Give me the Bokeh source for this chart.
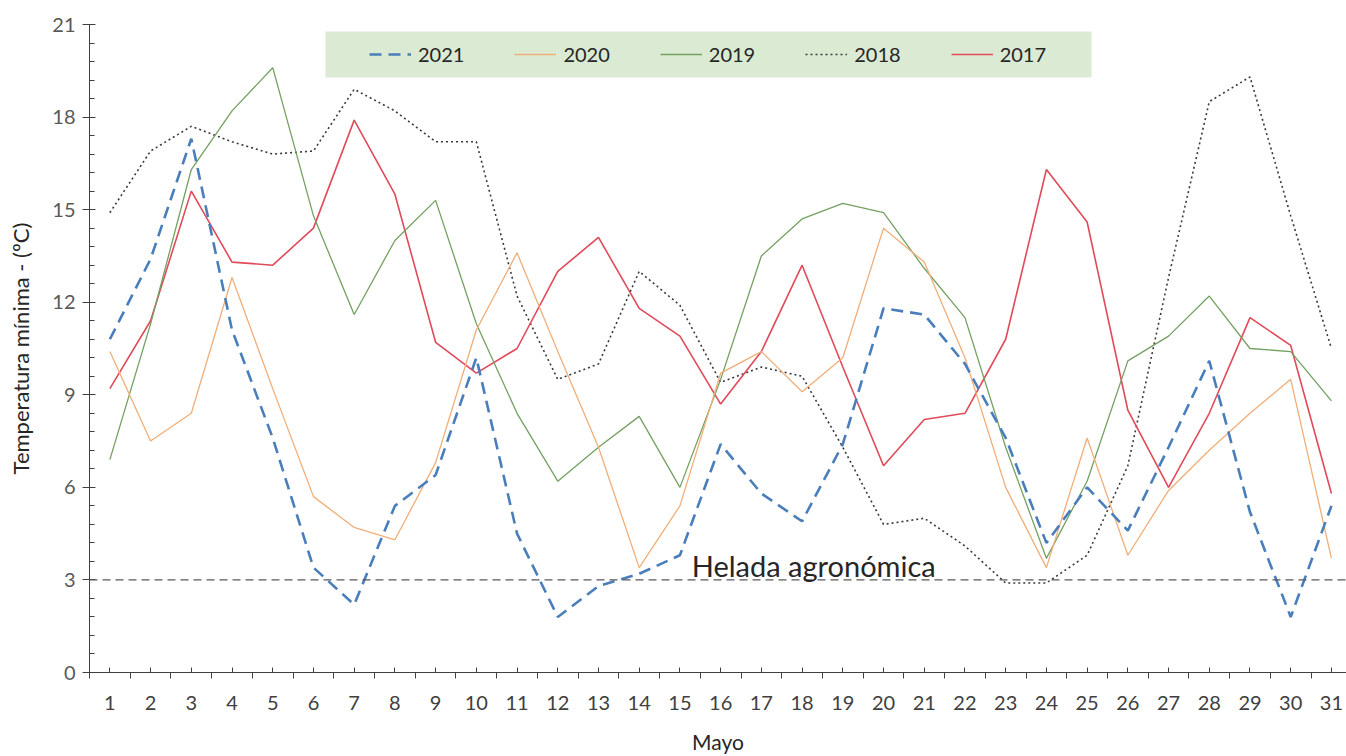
from bokeh.plotting import figure
from bokeh.models import (Legend, LegendItem, Span, Label, FixedTicker,
                          SingleIntervalTicker, Range1d, BoxAnnotation)
from bokeh.embed import file_html
from bokeh.resources import INLINE

days = list(range(1, 32))
t2021 = [10.8, 13.4, 17.3, 11.1, 7.6, 3.4, 2.2, 5.4, 6.4, 10.2, 4.5, 1.8, 2.8, 3.2, 3.8, 7.4,
         5.8, 4.9, 7.4, 11.8, 11.6, 10.0, 7.6, 4.2, 6.0, 4.6, 7.3, 10.1, 5.2, 1.8, 5.4]
t2020 = [10.4, 7.5, 8.4, 12.8, 9.2, 5.7, 4.7, 4.3, 6.8, 11.1, 13.6, 10.4, 7.3, 3.4, 5.4, 9.7,
         10.4, 9.1, 10.2, 14.4, 13.3, 10.2, 6.0, 3.4, 7.6, 3.8, 5.9, 7.2, 8.4, 9.5, 3.7]
t2019 = [6.9, 11.3, 16.3, 18.2, 19.6, 14.8, 11.6, 14.0, 15.3, 11.3, 8.4, 6.2, 7.3, 8.3, 6.0, 9.5,
         13.5, 14.7, 15.2, 14.9, 13.1, 11.5, 7.3, 3.7, 6.2, 10.1, 10.9, 12.2, 10.5, 10.4, 8.8]
t2018 = [14.9, 16.9, 17.7, 17.2, 16.8, 16.9, 18.9, 18.2, 17.2, 17.2, 12.2, 9.5, 10.0, 13.0, 11.9, 9.4,
         9.9, 9.6, 7.3, 4.8, 5.0, 4.1, 2.9, 2.9, 3.8, 6.7, 12.8, 18.5, 19.3, 14.8, 10.5]
t2017 = [9.2, 11.4, 15.6, 13.3, 13.2, 14.4, 17.9, 15.5, 10.7, 9.7, 10.5, 13.0, 14.1, 11.8, 10.9, 8.7,
         10.4, 13.2, 9.9, 6.7, 8.2, 8.4, 10.8, 16.3, 14.6, 8.5, 6.0, 8.4, 11.5, 10.6, 5.8]
years = ["2021", "2020", "2019", "2018", "2017"]
HELADA = 3.0
helada_text = "Helada agronómica"

FONT = "Lato"

p = figure(width=1346, height=756, output_backend="svg", toolbar_location=None,
           x_range=Range1d(0.5, 31.37), y_range=Range1d(0, 21),
           min_border_left=89, min_border_right=0, min_border_top=24, min_border_bottom=83)
p.outline_line_color = None
p.xgrid.visible = False
p.ygrid.visible = False
p.background_fill_color = "white"

# legend background panel (canvas pixels)
legend_bg = BoxAnnotation(left=325, right=1091, top=31, bottom=77,
                          left_units="canvas", right_units="canvas",
                          top_units="canvas", bottom_units="canvas",
                          fill_color="#dbead3", fill_alpha=1.0, line_color=None,
                          level="underlay")
p.add_layout(legend_bg)

styles = {
    "2018": dict(line_color="#3b3b3b", line_width=1.6, line_dash="2 3"),
    "2017": dict(line_color="#e04a5a", line_width=1.6),
    "2019": dict(line_color="#74a062", line_width=1.3),
    "2020": dict(line_color="#f0ae78", line_width=1.3),
    "2021": dict(line_color="#4a7ebb", line_width=2.6, line_dash="12 7"),
}
series = {"2021": t2021, "2020": t2020, "2019": t2019, "2018": t2018, "2017": t2017}

renderers = {}
for yr in ["2018", "2017", "2019", "2020", "2021"]:
    renderers[yr] = p.line(days, series[yr], **styles[yr])

span = Span(location=HELADA, dimension="width", line_color="#595959",
            line_width=1.3, line_dash="8 5")
p.add_layout(span)
lab = Label(x=15.29, y=HELADA, y_offset=-3, text=helada_text, text_font=FONT,
            text_font_size="29px", text_color="#262626", text_baseline="bottom")
p.add_layout(lab)

# axes
p.xaxis.ticker = FixedTicker(ticks=days, minor_ticks=[d + 0.5 for d in range(0, 32)])
p.yaxis.ticker = SingleIntervalTicker(interval=3, num_minor_ticks=5)
for ax in (p.xaxis[0], p.yaxis[0]):
    ax.axis_line_color = "#404040"
    ax.major_tick_line_color = "#404040"
    ax.minor_tick_line_color = "#404040"
    ax.major_label_text_font = FONT
    ax.major_label_text_font_size = "20px"
    ax.axis_label_text_font = FONT
    ax.axis_label_text_font_style = "normal"
    ax.axis_label_text_color = "#262626"
p.xaxis.major_tick_in = 5
p.xaxis.major_tick_out = 0
p.xaxis.minor_tick_in = 0
p.xaxis.minor_tick_out = 6
p.xaxis.major_label_standoff = 17
p.xaxis.major_label_text_color = "#404040"
p.xaxis.axis_label = "Mayo"
p.xaxis.axis_label_text_font_size = "21px"
p.xaxis.axis_label_standoff = 16

p.yaxis.major_tick_in = 6
p.yaxis.major_tick_out = 7
p.yaxis.minor_tick_in = 5
p.yaxis.minor_tick_out = 0
p.yaxis.major_label_standoff = 7
p.yaxis.major_label_text_color = "#595959"
p.yaxis.axis_label = "Temperatura mínima - (ºC)"
p.yaxis.axis_label_text_font_size = "22px"
p.yaxis.axis_label_standoff = 15

legend = Legend(items=[LegendItem(label=yr, renderers=[renderers[yr]]) for yr in years],
                orientation="horizontal", location=(280, 598), padding=0, spacing=50,
                glyph_width=42, glyph_height=40, label_standoff=7,
                label_text_font=FONT, label_text_font_size="20px", label_text_color="#262626",
                background_fill_alpha=0.0,
                border_line_color=None, margin=0)
p.add_layout(legend)

open("out.html", "w").write(file_html(p, INLINE))
